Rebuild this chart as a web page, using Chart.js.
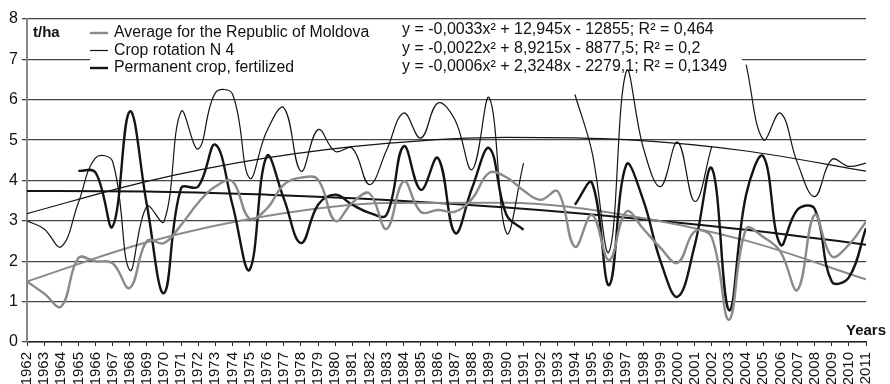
<!doctype html>
<html>
<head>
<meta charset="utf-8" />
<title>Yield dynamics, t/ha</title>
<script src="https://cdn.jsdelivr.net/npm/chart.js@4.4.1/dist/chart.umd.min.js"></script>
<style>
	html, body { margin: 0; padding: 0; background: #fff; }
	#wrap { position: relative; width: 890px; height: 384px; }
</style>
</head>
<body>
<div id="wrap"><canvas id="chart"></canvas></div>
<script>
// data
const years = [1962, 1963, 1964, 1965, 1966, 1967, 1968, 1969, 1970, 1971,
	1972, 1973, 1974, 1975, 1976, 1977, 1978, 1979, 1980, 1981,
	1982, 1983, 1984, 1985, 1986, 1987, 1988, 1989, 1990, 1991,
	1992, 1993, 1994, 1995, 1996, 1997, 1998, 1999, 2000, 2001,
	2002, 2003, 2004, 2005, 2006, 2007, 2008, 2009, 2010, 2011];

const averageMoldova = [1.5, 1.2, 0.88, 2.08, 2.0, 1.95, 1.34, 2.5, 2.45, 2.9,
	3.45, 3.85, 3.98, 3.05, 3.3, 3.9, 4.07, 4.02, 3.0, 3.45,
	3.68, 2.8, 3.98, 3.22, 3.27, 3.23, 3.55, 4.19, 4.08, 3.75,
	3.52, 3.73, 2.36, 3.15, 2.03, 3.23, 2.8, 2.33, 1.96, 2.74,
	2.58, 0.55, 2.8, 2.6, 2.24, 1.29, 3.15, 2.12, 2.41, 2.98];

const cropRotation = [3.0, 2.8, 2.36, 3.45, 4.56, 4.47, 1.78, 3.36, 2.98, 5.71,
	4.78, 6.17, 6.14, 4.06, 5.22, 5.8, 4.23, 5.26, 4.72, 4.8,
	3.9, 4.75, 5.67, 5.05, 5.92, 5.5, 4.27, 6.05, 2.7, 4.43,
	null, null, 6.13, 4.7, 2.24, 6.7, 4.8, 3.85, 4.95, 3.48,
	4.85, null, 6.87, 5.01, 5.67, 4.43, 3.6, 4.52, 4.35, 4.43];

const permanentCrop = [null, null, null, 4.24, 4.2, 2.86, 5.71, 3.4, 1.21, 3.81,
	3.85, 4.89, 3.4, 1.79, 4.6, 3.55, 2.45, 3.4, 3.65, 3.4,
	3.2, 3.15, 4.85, 3.77, 4.56, 2.7, 3.82, 4.8, 3.15, 2.78,
	null, null, 3.4, 3.94, 1.41, 4.39, 3.5, 2.0, 1.12, 2.4,
	4.3, 0.79, 3.65, 4.6, 2.41, 3.28, 3.3, 1.5, 1.6, 2.82];

// polynomial trend lines, sampled from the figure
const trendYears = [1962, 1969, 1976, 1983, 1990, 1997, 2004, 2011];
const trendAverage = [1.5, 2.47, 3.12, 3.44, 3.45, 3.14, 2.51, 1.55];
const trendRotation = [3.18, 3.98, 4.56, 4.92, 5.07, 5.01, 4.73, 4.23];
const trendPermanent = [3.74, 3.73, 3.65, 3.52, 3.33, 3.08, 2.78, 2.41];

const seriesNames = ["Average for the Republic of Moldova", "Crop rotation N 4", "Permanent crop, fertilized"];
const equations = [
	"y = -0,0033x² + 12,945x - 12855; R² = 0,464",
	"y = -0,0022x² + 8,9215x - 8877,5; R² = 0,2",
	"y = -0,0006x² + 2,3248x - 2279,1; R² = 0,1349",
];
const unitLabel = "t/ha";
const axisTitle = "Years";

const FONT = '"Liberation Sans", Arial, Helvetica, sans-serif';
const GRAY = "#8a8a8a";
const DARK = "#141414";
const lineStyles = [
	{ color: GRAY, width: 2.4 },
	{ color: DARK, width: 1.2 },
	{ color: DARK, width: 2.4 },
];

function pairs(xs, ys) {
	return xs.map((x, i) => ({ x: x, y: ys[i] }));
}

// white box behind legend and equations, drawn over the grid
const overlay = {
	id: "overlay",
	beforeDatasetsDraw(chart) {
		const ctx = chart.ctx;
		ctx.save();
		ctx.fillStyle = "#fff";
		ctx.fillRect(90, 21, 652, 57);

		ctx.textBaseline = "middle";
		ctx.fillStyle = "#111";
		ctx.font = "bold 15px " + FONT;
		ctx.fillText(unitLabel, 33, 33);

		ctx.font = "15.8px " + FONT;
		const rows = [33, 50.5, 68];
		seriesNames.forEach((name, i) => {
			ctx.strokeStyle = lineStyles[i].color;
			ctx.lineWidth = lineStyles[i].width;
			ctx.beginPath();
			ctx.moveTo(90, rows[i]);
			ctx.lineTo(108, rows[i]);
			ctx.stroke();
			ctx.fillText(name, 114, rows[i]);
		});
		ctx.font = "16px " + FONT;
		const eqRows = [30, 48.5, 67];
		equations.forEach((eq, i) => ctx.fillText(eq, 402, eqRows[i]));
		ctx.restore();
	},
	afterDraw(chart) {
		const ctx = chart.ctx;
		ctx.save();
		ctx.textBaseline = "middle";
		ctx.textAlign = "right";
		ctx.fillStyle = "#111";
		ctx.font = "bold 15px " + FONT;
		ctx.fillText(axisTitle, 886, 331);
		ctx.restore();
	},
};

const seriesData = [averageMoldova, cropRotation, permanentCrop];
const trendData = [trendAverage, trendRotation, trendPermanent];

const datasets = [];
seriesData.forEach((vals, i) => {
	datasets.push({
		label: seriesNames[i],
		data: pairs(years, vals),
		borderColor: lineStyles[i].color,
		borderWidth: lineStyles[i].width,
		pointRadius: 0,
		tension: 0.4,
		spanGaps: false,
		fill: false,
	});
});
trendData.forEach((vals, i) => {
	datasets.push({
		label: seriesNames[i] + " trend",
		data: pairs(trendYears, vals),
		borderColor: lineStyles[i].color,
		borderWidth: i === 1 ? 1.2 : 2,
		pointRadius: 0,
		cubicInterpolationMode: "monotone",
		fill: false,
	});
});

new Chart(document.getElementById("chart"), {
	type: "line",
	data: { datasets: datasets },
	plugins: [overlay],
	options: {
		responsive: true,
		maintainAspectRatio: false,
		animation: false,
		devicePixelRatio: 1,
		layout: { padding: { top: 19, right: 4, left: 0, bottom: 0 } },
		plugins: { legend: { display: false }, tooltip: { enabled: false } },
		scales: {
			x: {
				type: "linear",
				min: 1962,
				max: 2011,
				ticks: {
					stepSize: 1,
					autoSkip: false,
					maxRotation: 90,
					minRotation: 90,
					padding: 6,
					color: "#111",
					font: { size: 15, family: FONT },
					callback: (v) => String(v),
				},
				grid: { drawOnChartArea: false, tickLength: 4, color: "#222" },
				border: { color: "#222", width: 1.5 },
				afterFit(s) { s.height = 42; },
			},
			y: {
				min: 0,
				max: 8,
				ticks: { stepSize: 1, color: "#111", padding: 4, font: { size: 16, family: FONT } },
				grid: { color: "#444", lineWidth: 1.3, tickLength: 5 },
				border: { color: "#888", width: 2 },
				afterFit(s) { s.width = 27; },
			},
		},
	},
});
</script>
</body>
</html>
